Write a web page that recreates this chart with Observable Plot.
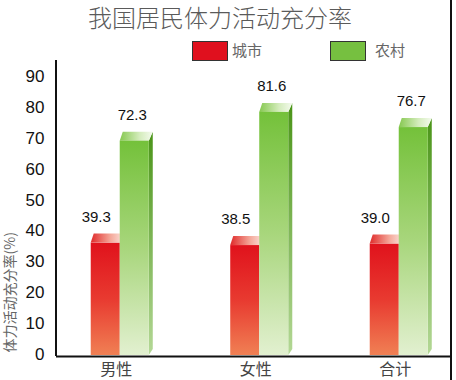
<!DOCTYPE html>
<html><head><meta charset="utf-8">
<script src="https://cdn.jsdelivr.net/npm/d3@7"></script>
<script src="https://cdn.jsdelivr.net/npm/@observablehq/plot@0.6"></script>
<style>
body{margin:0;background:#fff;}
#wrap{position:relative;width:456px;height:380px;overflow:hidden;font-family:"Noto Sans CJK SC","Noto Sans",sans-serif;background:#fff;}
#border{position:absolute;left:450px;top:0;width:2px;height:380px;background:#111;}
#title{position:absolute;left:0;top:0;width:440px;text-align:center;font-size:24px;line-height:34px;color:#5a5a5a;font-weight:300;}
.sw{position:absolute;top:41px;width:34px;height:18px;border:1px solid #333;}
.lt{position:absolute;top:40px;font-size:15px;line-height:20px;color:#666;}
#chart{position:absolute;left:0;top:60px;}
</style></head>
<body>
<div id="wrap">
  <div id="title"></div>
  <div class="sw" id="sw0" style="left:192px;"></div><div class="lt" id="lt0" style="left:232px;"></div>
  <div class="sw" id="sw1" style="left:330px;"></div><div class="lt" id="lt1" style="left:375px;"></div>
  <div id="chart"></div>
  <div id="border"></div>
</div>
<script>
const titleText = "我国居民体力活动充分率";
const yTitle = "体力活动充分率(%)";
const categories = ["男性", "女性", "合计"];
const series = ["城市", "农村"];
const urban = [39.3, 38.5, 39.0];
const rural = [72.3, 81.6, 76.7];
const yTicks = [0, 10, 20, 30, 40, 50, 60, 70, 80, 90];

const swatch = ["#e0101e", "#76c040"];
document.getElementById("title").textContent = titleText;
series.forEach((s, i) => {
  document.getElementById("lt" + i).textContent = s;
  document.getElementById("sw" + i).style.background = swatch[i];
});

const data = categories.flatMap((c, i) => [
  {cat: c, s: series[0], v: urban[i]},
  {cat: c, s: series[1], v: rural[i]}
]);
const redData = data.filter(d => d.s === series[0]);
const greenData = data.filter(d => d.s === series[1]);

const CAP = 9, DEPTH = 4;

function defsMark() {
  return () => {
    const g = d3.create("svg:g");
    const defs = g.append("defs");
    function lin(id, stops, horiz) {
      const lg = defs.append("linearGradient").attr("id", id)
        .attr("x1", 0).attr("y1", 0).attr("x2", horiz ? 1 : 0).attr("y2", horiz ? 0 : 1);
      stops.forEach(([o, c]) => lg.append("stop").attr("offset", o).attr("stop-color", c));
    }
    lin("redFront", [[0, "#e0121c"], [0.5, "#e83a30"], [1, "#f08054"]]);
    lin("greenFront", [[0, "#74c13a"], [0.5, "#a8d67c"], [1, "#e2f0d0"]]);
    lin("greenSide", [[0, "#4a9418"], [1, "#b4d896"]]);
    lin("redCap", [[0, "#e02a2a"], [0.6, "#f4a89a"], [1, "#fbe4dc"]], true);
    lin("greenCap", [[0, "#86c850"], [0.6, "#d4ecbc"], [1, "#f4faee"]], true);
    return g.node();
  };
}

function capMark(rows, left, withSide, capFill, sideFill) {
  return (index, scales) => {
    const {x, y} = scales;
    const bw = x.bandwidth ? x.bandwidth() : 58;
    const g = d3.create("svg:g");
    rows.forEach(d => {
      const x0 = x(d.cat) + (left ? 0 : bw / 2);
      const x1 = x0 + bw / 2;
      const yt = y(d.v);
      const yf = yt + CAP;
      if (withSide) {
        const yb = y(0);
        g.append("path")
          .attr("d", `M${x1},${yb}L${x1},${yf}L${x1 + DEPTH},${yt}L${x1 + DEPTH},${yb - 6}Z`)
          .attr("fill", sideFill);
      }
      g.append("path")
        .attr("d", `M${x0},${yf}L${x0 + DEPTH - 1},${yt}L${x1 + DEPTH},${yt}L${x1},${yf}Z`)
        .attr("fill", capFill);
    });
    return g.node();
  };
}

function yAxisLine() {
  return (index, scales, values, dims) => {
    const {y} = scales;
    return d3.create("svg:line")
      .attr("x1", dims.marginLeft).attr("x2", dims.marginLeft)
      .attr("y1", 0).attr("y2", y(0) + 1)
      .attr("stroke", "#111").attr("stroke-width", 2).node();
  };
}

const plot = Plot.plot({
  width: 456,
  height: 320,
  marginLeft: 56,
  marginRight: 5,
  marginTop: 0,
  marginBottom: 25,
  style: {background: "transparent", fontFamily: "'Liberation Sans', Arial, sans-serif", overflow: "visible"},
  x: {domain: categories, range: [50, 468.5], paddingInner: 0.584, paddingOuter: 0.292, round: false, axis: null},
  y: {domain: [0, 95.5], axis: null},
  marks: [
    defsMark(),
    Plot.barY(redData, {x: "cat", y: "v", fill: "url(#redFront)", insetRight: 29, insetTop: CAP}),
    capMark(redData, true, false, "url(#redCap)"),
    capMark(greenData, false, true, "url(#greenCap)", "url(#greenSide)"),
    Plot.barY(greenData, {x: "cat", y: "v", fill: "url(#greenFront)", insetLeft: 29, insetTop: CAP}),
    Plot.text(redData, {x: "cat", y: "v", text: d => d.v.toFixed(1), dx: -24, dy: -17, fontSize: 15, fill: "#111"}),
    Plot.text(greenData, {x: "cat", y: "v", text: d => d.v.toFixed(1), dx: 12, dy: -17, fontSize: 15, fill: "#111"}),
    Plot.ruleY([0], {stroke: "#111", strokeWidth: 2, dy: 1}),
    yAxisLine(),
    Plot.axisY(yTicks, {label: null, tickSize: 0, tickPadding: 12, fontSize: 17, fill: "#111", dy: -1}),
    Plot.axisX({label: null, tickSize: 0, tickPadding: 8, fontSize: 16, fill: "#444", dx: -4, fontFamily: "'Noto Sans CJK SC', sans-serif"}),
    Plot.text([yTitle], {frameAnchor: "bottom-left", rotate: -90, textAnchor: "start", dx: -42, dy: -3, fontSize: 14, fill: "#666", fontFamily: "'Noto Sans CJK SC', sans-serif"})
  ]
});
document.getElementById("chart").appendChild(plot);
</script>
</body></html>
